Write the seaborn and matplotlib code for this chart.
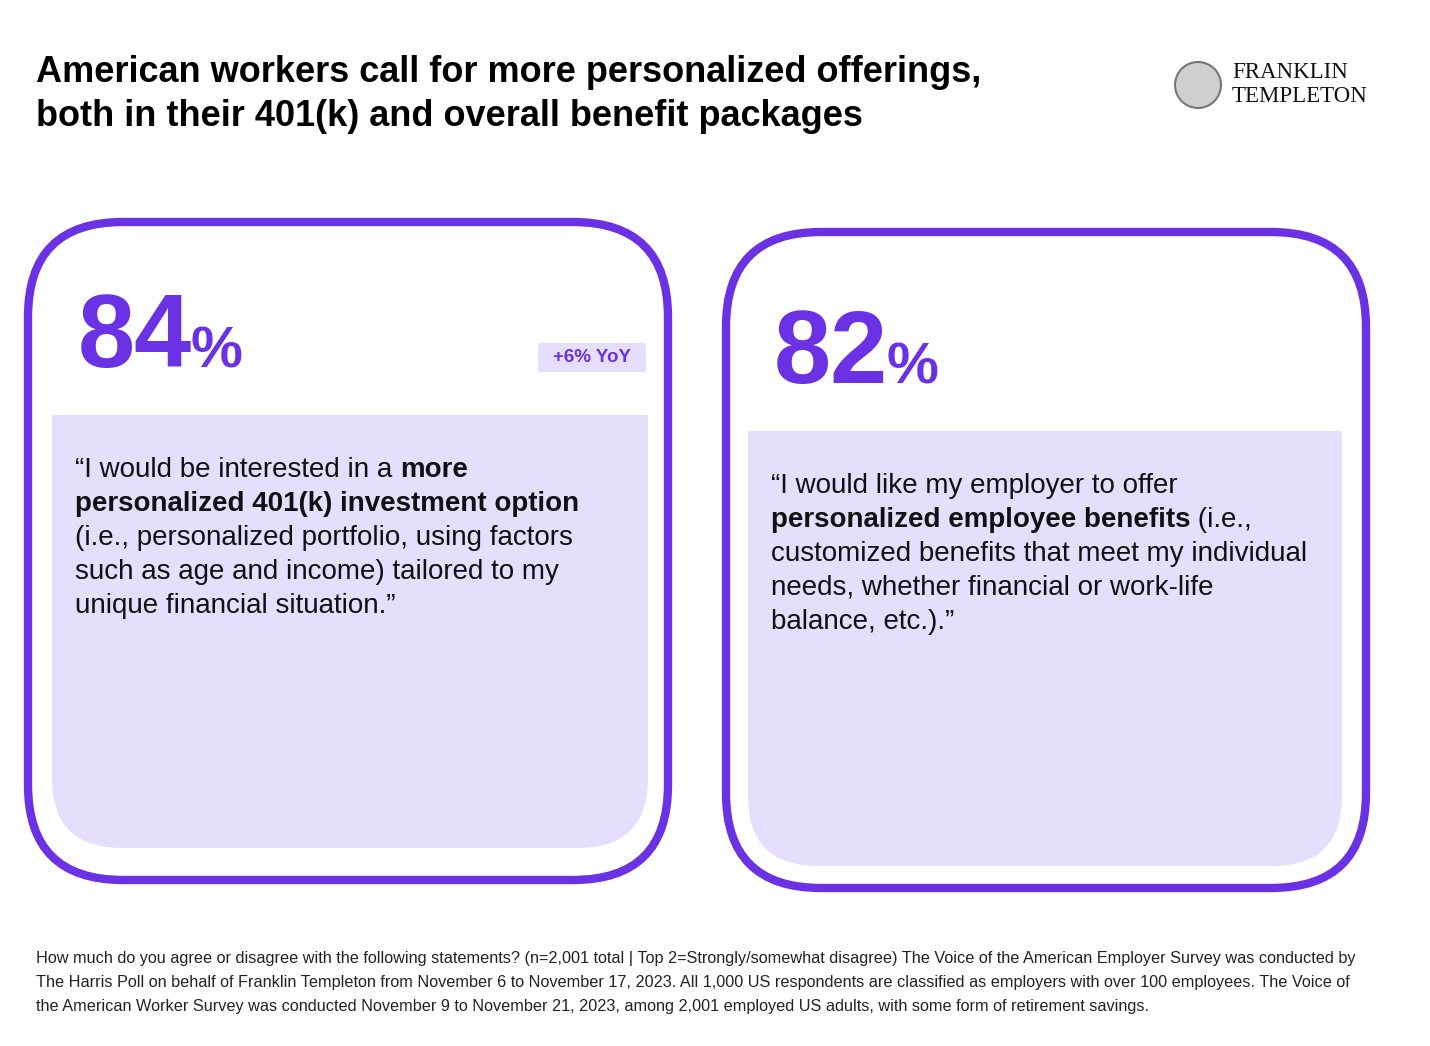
import matplotlib
matplotlib.use("Agg")
import matplotlib.pyplot as plt
import seaborn as sns
from matplotlib.patches import FancyBboxPatch, Rectangle, Circle, PathPatch
from matplotlib.path import Path

sns.set_theme(style="white")
plt.rcParams['font.family'] = ['Liberation Sans', 'DejaVu Sans']

PURPLE = "#6A32E4"
LILAC = "#E5DEFD"

# data
percents = [84, 82]
yoy_labels = ["+6% YoY", ""]
quotes = [
    [[("\u201cI would be interested in a ", False), ("more", True)],
     [("personalized 401(k) investment option", True)],
     [("(i.e., personalized portfolio, using factors", False)],
     [("such as age and income) tailored to my", False)],
     [("unique financial situation.\u201d", False)]],
    [[("\u201cI would like my employer to offer", False)],
     [("personalized employee benefits", True), (" (i.e.,", False)],
     [("customized benefits that meet my individual", False)],
     [("needs, whether financial or work-life", False)],
     [("balance, etc.).\u201d", False)]],
]
title_lines = ["American workers call for more personalized offerings,",
               "both in their 401(k) and overall benefit packages"]
footnote_lines = [
    "How much do you agree or disagree with the following statements? (n=2,001 total | Top 2=Strongly/somewhat disagree) The Voice of the American Employer Survey was conducted by",
    "The Harris Poll on behalf of Franklin Templeton from November 6 to November 17, 2023. All 1,000 US respondents are classified as employers with over 100 employees. The Voice of",
    "the American Worker Survey was conducted November 9 to November 21, 2023, among 2,001 employed US adults, with some form of retirement savings.",
]

# card geometry (pixels)
cards = [dict(x0=28, x1=668, y0=222, y1=880, ix0=52, ix1=648, iy0=415, iy1=848),
         dict(x0=726, x1=1366, y0=232, y1=888, ix0=748, ix1=1342, iy0=431, iy1=866)]

fig = plt.figure(figsize=(14.3, 10.46), dpi=100)
ax = fig.add_axes([0, 0, 1, 1])
ax.set_xlim(0, 1430)
ax.set_ylim(1046, 0)
ax.axis("off")


def bottom_rounded(x0, x1, y0, y1, r):
    verts = [(x0, y0), (x1, y0), (x1, y1 - r), (x1, y1), (x1 - r, y1),
             (x0 + r, y1), (x0, y1), (x0, y1 - r), (x0, y0)]
    codes = [Path.MOVETO, Path.LINETO, Path.LINETO, Path.CURVE3, Path.CURVE3,
             Path.LINETO, Path.CURVE3, Path.CURVE3, Path.CLOSEPOLY]
    return PathPatch(Path(verts, codes), facecolor=LILAC, edgecolor="none")


fig.canvas.draw()
renderer = fig.canvas.get_renderer()


def runs(x, y, parts, size):
    for txt, bold in parts:
        t = ax.text(x, y, txt, fontsize=size, fontweight="bold" if bold else "normal",
                    color="#111111", va="baseline", ha="left")
        x += t.get_window_extent(renderer).width


for c, pct, yoy, q in zip(cards, percents, yoy_labels, quotes):
    ax.add_patch(FancyBboxPatch((c["x0"] + 95, c["y0"] + 95), c["x1"] - c["x0"] - 190,
                                c["y1"] - c["y0"] - 190, boxstyle="round,pad=95",
                                facecolor="white", edgecolor=PURPLE, linewidth=6))
    ax.add_patch(bottom_rounded(c["ix0"], c["ix1"], c["iy0"], c["iy1"], 70))
    big = ax.text(c["ix0"] + 26, c["iy0"] - 48, str(pct), fontsize=74, fontweight="bold",
                  color=PURPLE, va="baseline")
    w = big.get_window_extent(renderer).width
    ax.text(c["ix0"] + 24 + w, c["iy0"] - 48, "%", fontsize=42, fontweight="bold",
            color=PURPLE, va="baseline")
    if yoy:
        ax.add_patch(Rectangle((c["ix1"] - 110, c["iy0"] - 72), 108, 29,
                               facecolor=LILAC, edgecolor="none"))
        ax.text(c["ix1"] - 56, c["iy0"] - 57, yoy, fontsize=13.5, fontweight="bold",
                color=PURPLE, ha="center", va="center")
    for i, line in enumerate(q):
        runs(c["ix0"] + 23, c["iy0"] + 62 + 34 * i, line, 20)

for i, line in enumerate(title_lines):
    ax.text(36, 72 + 44 * i, line, fontsize=26, fontweight="bold", color="black",
            va="center", ha="left")

for i, line in enumerate(footnote_lines):
    ax.text(36, 958 + 24 * i, line, fontsize=11.7, color="#222222", va="center")

# logo
ax.add_patch(Circle((1198, 85), 23, facecolor="#cfcfcf", edgecolor="#777777", linewidth=1.5))
ax.text(1232, 73, "FRANKLIN", fontsize=16.5, family=["Liberation Serif"], color="#111111", va="center")
ax.text(1232, 97, "TEMPLETON", fontsize=16.5, family=["Liberation Serif"], color="#111111", va="center")

fig.savefig("out.png", dpi=100)
